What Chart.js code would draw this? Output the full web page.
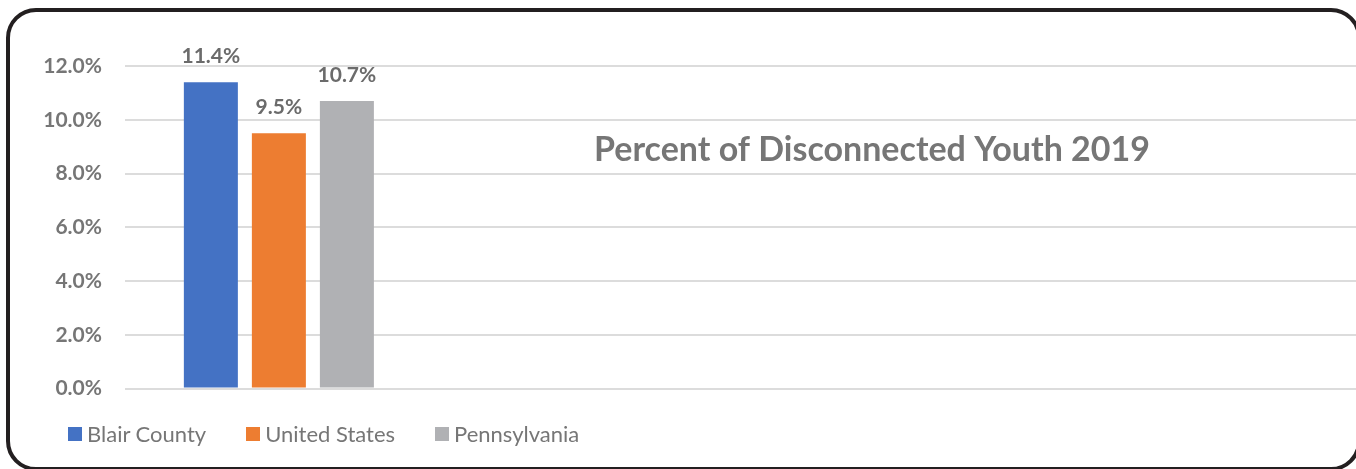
<!DOCTYPE html>
<html>
<head>
<meta charset="utf-8">
<script src="https://cdn.jsdelivr.net/npm/chart.js@4"></script>
<style>
  html, body { margin: 0; padding: 0; background: #fff; overflow: hidden; }
  #wrap { position: relative; width: 1356px; height: 469px; overflow: hidden; }
  #frame {
    position: absolute; left: 6px; top: 8px; width: 1355px; height: 463px;
    box-sizing: border-box; border: 4px solid #231f20; border-radius: 30px;
  }
  #chart { position: absolute; left: 0; top: 0; }
  #legend { position: absolute; left: 68px; top: 420px; display: flex;
    font-family: Lato, sans-serif; font-size: 22px; color: #767676; }
  #legend .item { display: flex; align-items: center; }
  #legend .box { width: 14px; height: 14px; margin-right: 5px; }
</style>
</head>
<body>
<div id="wrap">
  <div id="frame"></div>
  <canvas id="chart" width="1356" height="469"></canvas>
  <div id="legend"></div>
</div>
<script>
// Disconnected youth, 2019 (percent)
const categories = ['2019', '', '', ''];
const seriesNames = ['Blair County', 'United States', 'Pennsylvania'];
const blairCounty = [11.4, null, null, null];
const unitedStates = [9.5, null, null, null];
const pennsylvania = [10.7, null, null, null];
const yTicks = [0, 2, 4, 6, 8, 10, 12];
const chartTitle = 'Percent of Disconnected Youth 2019';

const colors = ['#4472c4', '#ed7d31', '#b0b1b4'];
const textGray = '#767676';

// value labels above each bar
const barLabels = {
    id: 'barLabels',
    afterDatasetsDraw(chart) {
        const ctx = chart.ctx;
        ctx.save();
        ctx.font = 'bold 21px Lato';
        ctx.fillStyle = '#6b6b6b';
        ctx.textAlign = 'center';
        ctx.textBaseline = 'alphabetic';
        chart.data.datasets.forEach((ds, i) => {
            chart.getDatasetMeta(i).data.forEach((bar, j) => {
                const v = ds.data[j];
                if (v == null) return;
                ctx.fillText(v.toFixed(1) + '%', bar.x, bar.y - 19);
            });
        });
        ctx.restore();
    }
};

// title sits inside the plot area
const innerTitle = {
    id: 'innerTitle',
    afterDraw(chart) {
        const ctx = chart.ctx;
        ctx.save();
        ctx.font = 'bold 34px Lato';
        ctx.fillStyle = textGray;
        ctx.textAlign = 'center';
        ctx.textBaseline = 'alphabetic';
        ctx.fillText(chartTitle, 872, 161);
        ctx.restore();
    }
};

const chart = new Chart(document.getElementById('chart').getContext('2d'), {
    type: 'bar',
    data: {
        labels: categories,
        datasets: [blairCounty, unitedStates, pennsylvania].map((d, i) => ({
            label: seriesNames[i],
            data: d,
            backgroundColor: colors[i],
            categoryPercentage: 0.663,
            barPercentage: 0.794
        }))
    },
    options: {
        responsive: false,
        animation: false,
        layout: { padding: { left: 0, right: 0, top: 66, bottom: 80.5 } },
        plugins: {
            legend: { display: false },
            tooltip: { enabled: false }
        },
        scales: {
            x: { display: false },
            y: {
                min: 0,
                max: 12,
                afterFit(scale) { scale.width = 125; },
                afterBuildTicks(scale) { scale.ticks = yTicks.map(v => ({ value: v })); },
                border: { display: false },
                grid: { color: '#dcdcdc', lineWidth: 2, drawTicks: false },
                ticks: {
                    padding: 23,
                    color: textGray,
                    font: { family: 'Lato', size: 21, weight: 'bold' },
                    callback: v => v.toFixed(1) + '%'
                }
            }
        }
    },
    plugins: [barLabels, innerTitle]
});

// legend row under the chart
const legend = document.getElementById('legend');
const gaps = [40, 40, 0];
chart.data.datasets.forEach((ds, i) => {
    const item = document.createElement('div');
    item.className = 'item';
    item.style.marginRight = gaps[i] + 'px';
    const box = document.createElement('span');
    box.className = 'box';
    box.style.background = ds.backgroundColor;
    const text = document.createElement('span');
    text.textContent = ds.label;
    item.appendChild(box);
    item.appendChild(text);
    legend.appendChild(item);
});
</script>
</body>
</html>
